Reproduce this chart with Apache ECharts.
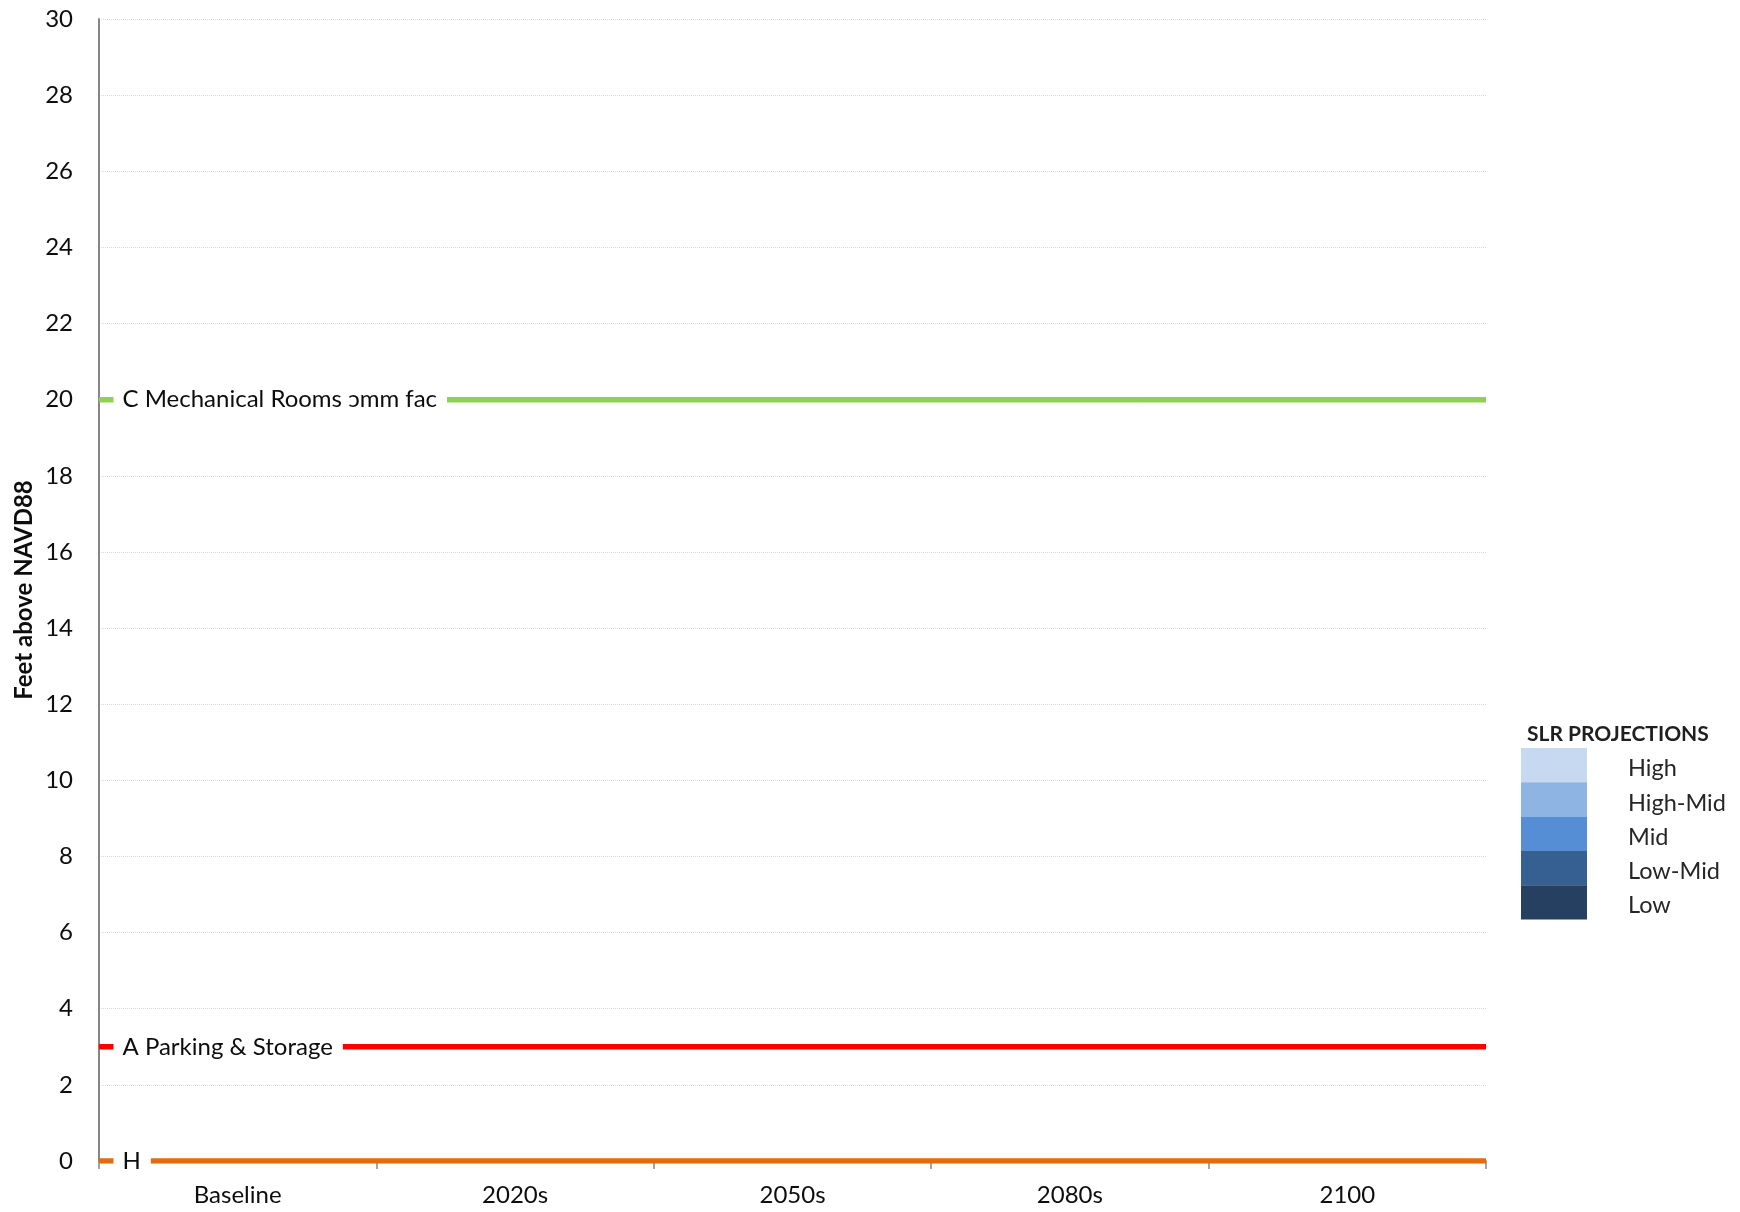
<!DOCTYPE html>
<html>
<head>
<meta charset="utf-8">
<script src="https://cdn.jsdelivr.net/npm/echarts@6/dist/echarts.min.js"></script>
<style>
html,body{margin:0;padding:0;background:#fff;}
#chart{width:1740px;height:1212px;}
</style>
</head>
<body>
<div id="chart"></div>
<script>
const categories = ['Baseline', '2020s', '2050s', '2080s', '2100'];
const mechanicalRooms = [20, 20, 20, 20, 20];
const parkingStorage = [3, 3, 3, 3, 3];
const hLevel = [0, 0, 0, 0, 0];
const thresholdNames = ['C Mechanical Rooms \u0254mm fac', 'A Parking & Storage', 'H'];
const slrNames = ['High', 'High-Mid', 'Mid', 'Low-Mid', 'Low'];

const thresholdSeriesData = [mechanicalRooms, parkingStorage, hLevel];
const thresholdColors = ['#92d050', '#ff0000', '#e46c0a'];
const slrColors = ['#c6d9f1', '#8eb4e3', '#558ed5', '#376092', '#254061'];
const FONT = 'Lato, "Open Sans", sans-serif';

const series = [];
thresholdSeriesData.forEach((vals, k) => {
  series.push({
    type: 'line',
    name: thresholdNames[k],
    xAxisIndex: 1,
    yAxisIndex: 0,
    symbol: 'circle',
    symbolSize: 1,
    showSymbol: true,
    color: thresholdColors[k],
    lineStyle: { width: 5.5, color: thresholdColors[k] },
    itemStyle: { color: thresholdColors[k] },
    label: {
      show: false,
      position: 'right',
      distance: 14,
      backgroundColor: '#ffffff',
      padding: [2, 10, 2, 9],
      color: '#0d0d0d',
      fontFamily: FONT,
      fontSize: 24,
      formatter: () => thresholdNames[k]
    },
    z: 3 + k,
    data: vals.map((v, i) => i === 0 ? { value: v, label: { show: true } } : v)
  });
});
slrNames.forEach((n, k) => {
  series.push({
    type: 'line',
    name: n,
    xAxisIndex: 1,
    yAxisIndex: 0,
    color: slrColors[k],
    itemStyle: { color: slrColors[k] },
    data: []
  });
});

const chart = echarts.init(document.getElementById('chart'), null, { renderer: 'canvas' });
chart.setOption({
  animation: false,
  backgroundColor: '#ffffff',
  textStyle: { fontFamily: FONT },
  title: {
    text: 'SLR PROJECTIONS',
    left: 1527,
    top: 724,
    padding: 0,
    textStyle: { fontFamily: FONT, fontSize: 21, fontWeight: 'bold', color: '#1f1f1f' }
  },
  legend: {
    orient: 'vertical',
    left: 1521,
    top: 748,
    padding: 0,
    itemWidth: 66,
    itemHeight: 34.3,
    itemGap: 0,
    selectedMode: false,
    data: slrNames.map(n => ({ name: n, icon: 'rect' })),
    formatter: n => '{t|' + n + '}',
    textStyle: {
      fontFamily: FONT, fontSize: 23.5, color: '#262626', padding: [0, 0, 0, 36],
      rich: { t: { fontFamily: FONT, fontSize: 23.5, color: '#262626', padding: [7, 0, 0, 0] } }
    }
  },
  grid: { left: 99, right: 254, top: 19, bottom: 51, containLabel: false },
  xAxis: [
    {
      type: 'category',
      data: categories,
      boundaryGap: true,
      axisLine: { show: true, lineStyle: { color: '#868686', width: 1.5 } },
      axisTick: { show: true, length: 8, interval: 0, lineStyle: { color: '#868686', width: 1.5 } },
      axisLabel: { margin: 22, fontSize: 24, color: '#0d0d0d', fontFamily: FONT, interval: 0 },
      splitLine: { show: false }
    },
    {
      type: 'category',
      data: categories,
      boundaryGap: false,
      show: false
    }
  ],
  yAxis: {
    type: 'value',
    min: 0,
    max: 30,
    interval: 2,
    name: 'Feet above NAVD88',
    nameLocation: 'middle',
    nameGap: 63,
    nameMoveOverlap: false,
    nameTextStyle: { fontFamily: FONT, fontSize: 24, fontWeight: 'bold', color: '#0d0d0d' },
    axisLine: { show: true, lineStyle: { color: '#868686', width: 2 } },
    axisTick: { show: false },
    axisLabel: { margin: 26, fontSize: 24, color: '#0d0d0d', fontFamily: FONT },
    splitLine: { show: true, lineStyle: { color: '#d9d9d9', type: 'dotted', width: 1 } }
  },
  series: series
});
</script>
</body>
</html>
